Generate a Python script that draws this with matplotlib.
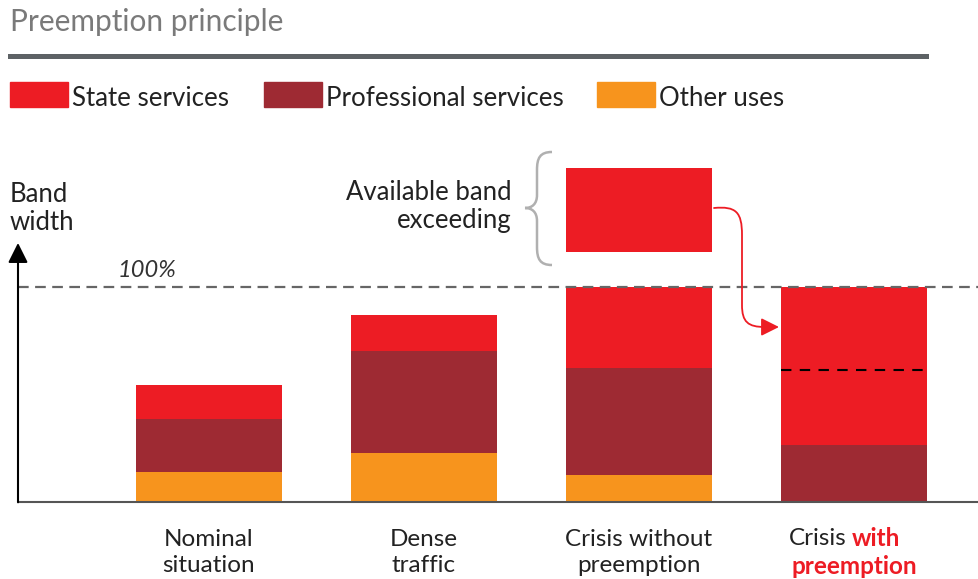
import matplotlib.pyplot as plt
from matplotlib.patches import Rectangle, FancyArrowPatch, PathPatch
from matplotlib.path import Path
from matplotlib.transforms import Affine2D

plt.rcParams['font.family'] = ['Lato', 'DejaVu Sans']

# data (percent of available band width)
categories = ['Nominal\nsituation', 'Dense\ntraffic', 'Crisis without\npreemption', 'Crisis with\npreemption']
other_uses = [14.0, 22.8, 12.6, 0.0]
professional = [24.8, 47.6, 49.8, 26.6]
state = [15.5, 16.7, 37.6, 73.4]
excess_base = 116.1
excess_height = 38.8
reserved_level = 61.4
series_names = ['State services', 'Professional services', 'Other uses']
colors = ['#ED1C24', '#9E2A33', '#F7941D']

W, H = 979, 579
fig = plt.figure(figsize=(W / 100, H / 100), dpi=100)
ax = fig.add_axes([0, 0, 1, 1])
ppp = 2.156  # pixels per percent
ax.set_xlim(-209 / 215, (W - 209) / 215)
ax.set_ylim(-(H - 502.3) / ppp, 502.3 / ppp)
ax.axis('off')

# pixel coordinates for decorations (origin top-left)
pix = Affine2D().scale(1 / W, -1 / H).translate(0, 1) + fig.transFigure

x = list(range(len(categories)))
bw = 146 / 215
ax.bar(x, other_uses, bw, color=colors[2], zorder=2)
ax.bar(x, professional, bw, bottom=other_uses, color=colors[1], zorder=2)
bottoms = [a + b for a, b in zip(other_uses, professional)]
ax.bar(x, state, bw, bottom=bottoms, color=colors[0], zorder=2)
ax.bar(2, excess_height, bw, bottom=excess_base, color=colors[0], zorder=2)

# reserved level inside the last bar
ax.hlines(reserved_level, 3 - bw / 2, 3 + bw / 2, color='black', lw=1.5,
          linestyles=(0, (5, 4)), zorder=3)

# 100% line
xa = (18 - 209) / 215
ax.hlines(100, xa, ax.get_xlim()[1], color='#666666', lw=1.6,
          linestyles=(0, (4.8, 2.9)), zorder=3)
ax.text(xa + 100 / 215, 107.5, '100%', style='italic', fontsize=17,
        color='#333333', va='center')

# axes
ax.hlines(0, xa, ax.get_xlim()[1], color='#555555', lw=1.5, zorder=3)
ax.annotate('', xy=(xa, 120.3), xytext=(xa, 0),
            arrowprops=dict(arrowstyle='-|>,head_length=0.8,head_width=0.4',
                            mutation_scale=15, color='black', lw=1.5,
                            shrinkA=0, shrinkB=0))
fig.text(10 / W, 1 - 209 / H, 'Band\nwidth', fontsize=18.5, color='#222222',
         va='center', ha='left', linespacing=1.15)

# category labels
for i, lab in enumerate(categories[:3]):
    ax.text(i, -23.4, lab, ha='center', va='center', fontsize=17.5,
            color='#222222', linespacing=1.3)
ax.text(3 - 7 / 215, -16.9, 'Crisis', ha='right', va='center', fontsize=17.5,
        color='#222222')
ax.text(3 - 2 / 215, -16.9, 'with', ha='left', va='center', fontsize=17.5,
        color=colors[0], fontweight='bold')
ax.text(3, -29.6, 'preemption', ha='center', va='center', fontsize=17.5,
        color=colors[0], fontweight='bold')

# title and rule
fig.text(10 / W, 1 - 22 / H, 'Preemption principle', fontsize=21.5,
         color='#7a7a7a', va='center', ha='left')
fig.add_artist(plt.Line2D([10, 926], [56, 56], transform=pix, lw=3.6,
                          color='#5d6265'))

# legend
legend_x = [10, 264, 597]
for name, c, lx in zip(series_names, colors, legend_x):
    fig.add_artist(Rectangle((lx, 82), 58, 25, transform=pix, color=c))
    fig.text((lx + 62) / W, 1 - 99 / H, name, fontsize=18.6, color='#222222',
             va='center', ha='left')

# brace
brace = Path([(552, 152), (540, 152), (537, 158), (537, 170),
              (537, 195),
              (537, 204), (532, 208), (525, 208),
              (532, 208), (537, 212), (537, 221),
              (537, 247),
              (537, 259), (540, 265), (552, 265)],
             [Path.MOVETO, Path.CURVE4, Path.CURVE4, Path.CURVE4,
              Path.LINETO,
              Path.CURVE4, Path.CURVE4, Path.CURVE4,
              Path.CURVE4, Path.CURVE4, Path.CURVE4,
              Path.LINETO,
              Path.CURVE4, Path.CURVE4, Path.CURVE4])
fig.add_artist(PathPatch(brace, transform=pix, fill=False, ec='#b0b0b0', lw=1.8))
fig.text(512 / W, 1 - 207 / H, 'Available band\nexceeding', fontsize=18.5,
         color='#222222', va='center', ha='right', linespacing=1.15)

# arrow from the excess to the preempted bar
arrow = Path([(714, 208), (736, 206), (742, 212), (742, 235),
              (742, 305),
              (742, 322), (748, 327), (765, 327),
              (779, 327)],
             [Path.MOVETO, Path.CURVE4, Path.CURVE4, Path.CURVE4,
              Path.LINETO,
              Path.CURVE4, Path.CURVE4, Path.CURVE4,
              Path.LINETO])
fig.add_artist(FancyArrowPatch(path=arrow, transform=pix,
                               arrowstyle='-|>,head_length=0.9,head_width=0.45',
                               mutation_scale=12, color=colors[0], lw=1.3))

fig.savefig('out.png', dpi=100)
